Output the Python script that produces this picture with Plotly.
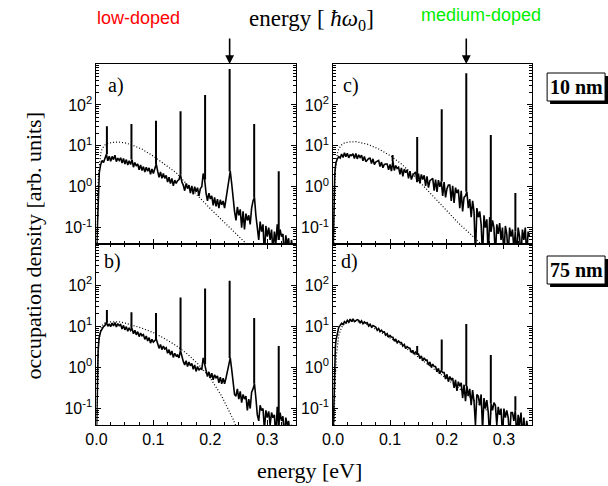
import numpy as np
import plotly.graph_objects as go

# ---------------- data ----------------
E_RISE = [0.0, 0.001, 0.002, 0.003, 0.004]
E_MAIN = np.round(np.arange(0.005, 0.34501, 0.0025), 4).tolist()
ENERGY = E_RISE + E_MAIN  # eV

A_RISE = [0.02, 0.05, 0.3, 0.9, 1.6]
A_MAIN = [2.2, 3.5, 4.4, 3.9, 5.2, 6.2, 4.3, 5.6, 4.2, 5.5, 4.6, 5.9,
          4.1, 5.0, 4.4, 5.1, 3.8, 4.9, 3.6, 4.6, 3.4, 4.3, 3.5, 4.6,
          3.0, 3.9, 3.2, 3.6, 2.6, 3.4, 2.5, 3.1, 2.3, 3.0, 2.4, 2.9,
          2.0, 2.7, 2.1, 2.9, 3.6, 2.4, 1.7, 2.3, 1.6, 2.1, 1.6, 1.9,
          1.3, 1.7, 1.2, 1.6, 1.05, 1.45, 1.2, 1.4, 1.5, 2.0, 1.3, 1.1,
          0.8, 1.2, 0.9, 1.1, 0.7, 1.05, 0.65, 1.0, 0.75, 0.95, 0.6, 0.9,
          1.0, 2.1, 1.5, 0.7, 0.45, 0.7, 0.5, 0.6, 0.35, 0.55, 0.33, 0.5,
          0.3, 0.48, 0.36, 0.45, 0.3, 0.5, 0.9, 1.6, 2.4, 1.2, 0.45, 0.25,
          0.15, 0.32, 0.2, 0.28, 0.1, 0.25, 0.09, 0.22, 0.15, 0.2, 0.12, 0.3,
          0.45, 0.55, 0.2, 0.08, 0.05, 0.14, 0.08, 0.12, 0.02, 0.11, 0.06, 0.1,
          0.05, 0.09, 0.025, 0.08, 0.04, 0.12, 0.05, 0.09, 0.06, 0.07, 0.02, 0.065,
          0.04, 0.055, 0.02, 0.05, 0.025]
B_RISE = [0.02, 0.2, 1.0, 2.5, 4.0]
B_MAIN = [5.5, 7.5, 9.0, 9.8, 10.5, 12.5, 10.0, 11.5, 9.8, 12.0, 10.2, 12.3,
          9.6, 11.6, 10.4, 11.0, 8.6, 10.5, 8.2, 9.8, 7.6, 9.2, 7.9, 8.8,
          6.6, 8.0, 6.2, 7.4, 5.6, 6.8, 5.9, 6.3, 4.8, 5.8, 4.4, 5.3,
          3.9, 4.8, 4.1, 4.4, 4.9, 3.8, 2.9, 3.6, 2.7, 3.3, 2.8, 3.0,
          2.2, 2.7, 2.0, 2.5, 1.75, 2.2, 1.9, 2.0, 1.7, 2.6, 1.8, 1.4,
          1.15, 1.45, 1.05, 1.35, 1.1, 1.25, 0.9, 1.15, 0.8, 1.05, 0.85, 0.95,
          0.9, 1.7, 1.2, 0.75, 0.6, 0.78, 0.55, 0.72, 0.5, 0.66, 0.56, 0.62,
          0.42, 0.58, 0.4, 0.55, 0.4, 0.55, 0.8, 1.4, 1.7, 0.9, 0.38, 0.22,
          0.2, 0.3, 0.17, 0.26, 0.14, 0.22, 0.17, 0.2, 0.09, 0.17, 0.1, 0.25,
          0.3, 0.4, 0.18, 0.07, 0.05, 0.12, 0.09, 0.1, 0.03, 0.09, 0.06, 0.085,
          0.04, 0.08, 0.06, 0.07, 0.02, 0.11, 0.04, 0.08, 0.05, 0.065, 0.02, 0.06,
          0.04, 0.05, 0.02, 0.04, 0.03]
C_RISE = [0.02, 0.3, 1.0, 2.0, 3.0]
C_MAIN = [3.8, 4.8, 5.4, 5.0, 6.3, 5.2, 6.8, 5.4, 6.6, 5.1, 6.0, 5.8,
          6.4, 4.9, 6.5, 4.8, 6.0, 5.2, 5.9, 4.3, 5.5, 4.1, 4.6, 4.9,
          5.0, 3.7, 4.8, 3.5, 4.0, 4.3, 4.4, 3.1, 4.0, 2.9, 3.5, 3.6,
          3.6, 2.6, 3.5, 2.4, 4.2, 2.5, 3.3, 2.8, 3.0, 2.0, 2.9, 1.8,
          2.7, 2.2, 2.6, 1.6, 2.4, 1.5, 1.9, 2.1, 2.3, 1.3, 2.1, 1.2,
          2.0, 1.5, 1.9, 1.05, 1.8, 0.95, 1.4, 1.5, 1.6, 0.8, 1.5, 0.75,
          1.45, 1.0, 1.35, 0.6, 1.3, 0.55, 0.9, 1.1, 1.1, 0.45, 1.05, 0.4,
          0.95, 0.7, 0.85, 0.3, 0.8, 0.25, 0.55, 0.6, 0.75, 0.3, 0.5, 0.18,
          0.45, 0.25, 0.02, 0.3, 0.18, 0.25, 0.12, 0.02, 0.2, 0.1, 0.16, 0.02,
          0.18, 0.08, 0.15, 0.1, 0.02, 0.12, 0.07, 0.13, 0.05, 0.1, 0.02, 0.11,
          0.07, 0.02, 0.1, 0.06, 0.09, 0.03, 0.08, 0.02, 0.1, 0.06, 0.02, 0.09,
          0.05, 0.1, 0.02, 0.08, 0.06]
D_RISE = [0.02, 0.1, 0.5, 1.5, 3.0]
D_MAIN = [4.5, 7.0, 9.5, 10.5, 11.8, 11.0, 13.0, 12.0, 14.0, 12.6, 15.0, 13.0,
          15.2, 13.0, 14.0, 14.5, 14.0, 12.2, 13.6, 11.5, 12.8, 11.9, 12.2, 10.2,
          11.2, 9.5, 10.4, 9.8, 9.6, 8.0, 8.8, 7.4, 8.0, 7.2, 7.3, 6.1,
          6.6, 5.4, 6.0, 5.5, 5.4, 4.4, 4.9, 4.0, 4.4, 4.0, 4.0, 3.3,
          3.6, 2.9, 3.2, 3.0, 2.9, 2.3, 2.6, 2.1, 2.35, 2.1, 2.1, 1.65,
          1.9, 1.45, 1.7, 1.5, 1.5, 1.15, 1.35, 1.0, 1.2, 1.05, 1.05, 0.78,
          0.95, 0.7, 0.85, 0.75, 0.75, 0.52, 0.68, 0.45, 0.6, 0.5, 0.55, 0.32,
          0.5, 0.27, 0.45, 0.35, 0.42, 0.18, 0.38, 0.15, 0.35, 0.2, 0.3, 0.12,
          0.28, 0.15, 0.04, 0.22, 0.2, 0.12, 0.22, 0.03, 0.18, 0.1, 0.16, 0.08,
          0.02, 0.13, 0.09, 0.14, 0.12, 0.04, 0.11, 0.07, 0.1, 0.02, 0.1, 0.06,
          0.09, 0.06, 0.02, 0.08, 0.08, 0.05, 0.09, 0.02, 0.07, 0.04, 0.08, 0.02,
          0.06, 0.02, 0.05, 0.03, 0.03]

# phonon-replica peaks (eV) and their heights per panel (0 = no peak)
PEAK_E = [0.0184, 0.0615, 0.1046, 0.1477, 0.1908, 0.2339, 0.2770, 0.3201]
PEAKS_A = [30, 34, 41, 70, 175, 760, 34, 2.4]
PEAKS_B = [25, 22, 21, 50, 83, 127, 16, 3.3]
PEAKS_C = [0, 0, 6, 16.5, 78, 590, 18.5, 0.7]
PEAKS_D = [0, 0, 0, 3.3, 4.8, 11.4, 2.0, 0.2]

# dotted model curves
DOT_E = [0.001, 0.002, 0.004, 0.006, 0.008, 0.010, 0.015, 0.020, 0.030, 0.040,
         0.050, 0.060, 0.080, 0.100, 0.120, 0.140, 0.160, 0.180, 0.200, 0.220,
         0.240, 0.260, 0.280]
DOT_A = [0.03, 0.6, 2.5, 5, 7, 8.5, 10.5, 11.5, 12.2, 12.3, 11.8, 10.8, 8.3, 5.6,
         3.6, 2.2, 1.1, 0.55, 0.29, 0.155, 0.083, 0.045, 0.024]
DOT_B = [0.05, 1.0, 4, 7, 9, 10.5, 12, 12.8, 13, 12.8, 12, 11, 9, 7, 5, 3.4,
         2.1, 1.15, 0.55, 0.2, 0.055, 0.012, 0.005]
DOT_C = [0.03, 0.6, 2.5, 5, 7, 8.5, 10.5, 11.8, 12.5, 12.6, 12, 11, 8.4, 5.8,
         3.6, 2.0, 1.0, 0.5, 0.26, 0.13, 0.072, 0.04, 0.022]
DOT_D = [0.02, 0.1, 0.6, 2, 4, 6, 9.5, 11.5, 13, 13.2, 12.5, 11, 7.8, 5.3, 3.5,
         2.25, 1.4, 0.85, 0.52, 0.32, 0.19, 0.115, 0.07]

Y_TICKS = [0.1, 1, 10, 100]
Y_TICKTEXT = ["10<sup>-1</sup>", "10<sup>0</sup>", "10<sup>1</sup>", "10<sup>2</sup>"]
X_TICKS = [0.0, 0.1, 0.2, 0.3]
X_TICKTEXT = ["0.0", "0.1", "0.2", "0.3"]

# ---------------- figure ----------------
W, H = 608, 486
def px(x): return x / W
def py(y): return 1 - y / H

SANS = "Liberation Sans"
SERIF = "Liberation Serif"

fig = go.Figure()

panels = [
    ("x", "y", A_RISE + A_MAIN, PEAKS_A, DOT_A),
    ("x2", "y2", B_RISE + B_MAIN, PEAKS_B, DOT_B),
    ("x3", "y3", C_RISE + C_MAIN, PEAKS_C, DOT_C),
    ("x4", "y4", D_RISE + D_MAIN, PEAKS_D, DOT_D),
]
grid = np.array(ENERGY)
for xa, ya, vals, peaks, dots in panels:
    assert len(vals) == len(ENERGY)
    fig.add_trace(go.Scatter(x=DOT_E, y=dots, mode="lines", xaxis=xa, yaxis=ya,
                             line=dict(color="black", width=1.2, dash="1px,2px"),
                             hoverinfo="skip"))
    fig.add_trace(go.Scatter(x=ENERGY, y=vals, mode="lines", xaxis=xa, yaxis=ya,
                             line=dict(color="black", width=1.6), hoverinfo="skip"))
    sx, sy = [], []
    for p, h in zip(PEAK_E, peaks):
        if h <= 0:
            continue
        base = vals[int(np.argmin(np.abs(grid - p)))]
        sx += [p, p, None]
        sy += [base, h, None]
    fig.add_trace(go.Scatter(x=sx, y=sy, mode="lines", xaxis=xa, yaxis=ya,
                             line=dict(color="black", width=2), hoverinfo="skip"))

tick_font = dict(family=SANS, size=16, color="black")

def xaxis_dict(domain, anchor, labels, mirror):
    return dict(domain=domain, anchor=anchor, range=[0, 0.35], showline=True,
                linecolor="black", linewidth=1, mirror=mirror, ticks="inside",
                ticklen=5, tickcolor="black", tickmode="array", tickvals=X_TICKS,
                ticktext=X_TICKTEXT, showticklabels=labels, tickfont=tick_font,
                minor=dict(ticks="inside", ticklen=3, tick0=0, dtick=0.025,
                           tickcolor="black", showgrid=False),
                showgrid=False, zeroline=False)

minor_y = [k * 10.0 ** n for n in range(-2, 3) for k in range(2, 10)]

def yaxis_dict(domain, anchor):
    return dict(domain=domain, anchor=anchor, type="log", range=[-1.4, 3.0],
                showline=True, linecolor="black", linewidth=1, mirror="allticks",
                ticks="inside", ticklen=5, tickcolor="black", tickmode="array",
                tickvals=Y_TICKS, ticktext=Y_TICKTEXT, tickfont=tick_font,
                minor=dict(ticks="inside", ticklen=3, tickvals=minor_y,
                           tickcolor="black", showgrid=False),
                showgrid=False, zeroline=False)

XL = [px(87), px(290)]
XR = [px(328), px(531)]
YT = [py(244), py(64)]
YB = [py(425), py(244)]

def top_axis(over, anchor):
    return dict(overlaying=over, anchor=anchor, side="top", range=[0, 8.05],
                showline=True, linecolor="black", linewidth=1, ticks="inside",
                ticklen=5, tickcolor="black", tick0=0, dtick=2, tickfont=tick_font,
                minor=dict(ticks="inside", ticklen=3, tick0=0, dtick=1,
                           tickcolor="black", showgrid=False),
                showgrid=False, zeroline=False)

fig.update_layout(
    width=W, height=H, margin=dict(l=0, r=0, t=0, b=0),
    paper_bgcolor="white", plot_bgcolor="white", showlegend=False,
    xaxis=xaxis_dict(XL, "y", False, True),
    xaxis2=xaxis_dict(XL, "y2", True, "allticks"),
    xaxis3=xaxis_dict(XR, "y3", False, True),
    xaxis4=xaxis_dict(XR, "y4", True, "allticks"),
    xaxis5=top_axis("x", "y"),
    xaxis6=top_axis("x3", "y3"),
    yaxis=yaxis_dict(YT, "x"),
    yaxis2=yaxis_dict(YB, "x2"),
    yaxis3=yaxis_dict(YT, "x3"),
    yaxis4=yaxis_dict(YB, "x4"),
)

ann = []
for xr in ["x", "x3"]:
    ann.append(dict(x=PEAK_E[5], xref=xr, y=py(64), yref="paper", ax=0, ay=-27,
                    axref="pixel", ayref="pixel", text="", showarrow=True,
                    arrowhead=2, arrowsize=1.1, arrowwidth=1.6, arrowcolor="black"))
for lab, xx, yy in [("a)", 97, 85), ("b)", 93, 261), ("c)", 336, 85), ("d)", 334, 261)]:
    ann.append(dict(text=lab, x=px(xx), y=py(yy), xref="paper", yref="paper",
                    xanchor="left", yanchor="middle", showarrow=False,
                    font=dict(family=SERIF, size=20, color="black")))
ann.append(dict(text="occupation density [arb. units]", x=px(22), y=py(246),
                xref="paper", yref="paper", textangle=-90, showarrow=False,
                xanchor="center", yanchor="middle",
                font=dict(family=SERIF, size=22, color="black")))
ann.append(dict(text="energy [eV]", x=px(304), y=py(470), xref="paper", yref="paper",
                showarrow=False, xanchor="center", yanchor="middle",
                font=dict(family=SERIF, size=22, color="black")))
ann.append(dict(text="energy [ <i>ħω</i><sub>0</sub>]", x=px(306), y=py(20),
                xref="paper", yref="paper", showarrow=False, xanchor="center",
                yanchor="middle", font=dict(family=SERIF, size=23, color="black")))
ann.append(dict(text="low-doped", x=px(130), y=py(18), xref="paper", yref="paper",
                showarrow=False, xanchor="center", yanchor="middle",
                font=dict(family=SANS, size=18, color="#ff0000")))
ann.append(dict(text="medium-doped", x=px(479), y=py(15), xref="paper", yref="paper",
                showarrow=False, xanchor="center", yanchor="middle",
                font=dict(family=SANS, size=18, color="#00ee00")))

shapes = []
for label, yc in [("10 nm", 87), ("75 nm", 270)]:
    shapes.append(dict(type="rect", xref="paper", yref="paper",
                       x0=px(549), x1=px(608), y0=py(yc + 17), y1=py(yc - 11),
                       fillcolor="black", line=dict(width=0)))
    shapes.append(dict(type="rect", xref="paper", yref="paper",
                       x0=px(546), x1=px(605), y0=py(yc + 14), y1=py(yc - 14),
                       fillcolor="white", line=dict(color="black", width=1)))
    ann.append(dict(text="<b>" + label + "</b>", x=px(575.5), y=py(yc), xref="paper",
                    yref="paper", showarrow=False, xanchor="center", yanchor="middle",
                    font=dict(family=SERIF, size=20, color="black")))

fig.update_layout(annotations=ann, shapes=shapes)
fig.write_html("out.html", config={"displayModeBar": False},
               post_script="document.body.style.margin='0px';document.body.style.overflow='hidden';")
